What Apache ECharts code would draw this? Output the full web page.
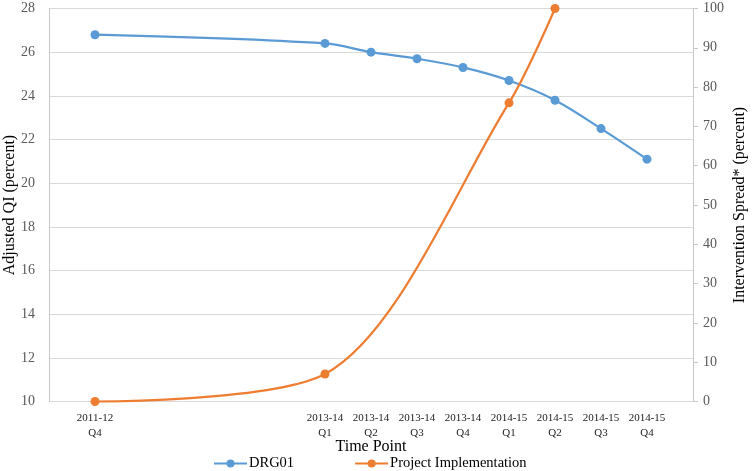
<!DOCTYPE html>
<html>
<head>
<meta charset="utf-8">
<script src="https://cdn.jsdelivr.net/npm/echarts@6/dist/echarts.min.js"></script>
<style>html,body{margin:0;padding:0;background:#fff}#c{width:755px;height:471px}</style>
</head>
<body>
<div id="c"></div>
<script>
// Quarter index positions (2011-12 Q4 = 0, one unit per quarter)
var quarterPos = [0, 5, 6, 7, 8, 9, 10, 11, 12];
var tickLabels = ['2011-12\nQ4', '2013-14\nQ1', '2013-14\nQ2', '2013-14\nQ3', '2013-14\nQ4', '2014-15\nQ1', '2014-15\nQ2', '2014-15\nQ3', '2014-15\nQ4'];
var drg01 = [26.8, 26.4, 26.0, 25.7, 25.3, 24.7, 23.8, 22.5, 21.1];
var implPos = [0, 5, 9, 10];
var implementation = [0, 7, 76, 100];

var FONT = '"Liberation Serif", "Times New Roman", serif';
var chart = echarts.init(document.getElementById('c'));
chart.setOption({
  animation: false,
  grid: {left: 49, right: 62, top: 8.5, bottom: 69.5, containLabel: false, outerBoundsMode: 'none'},
  xAxis: {
    type: 'value', min: -1, max: 13,
    name: 'Time Point', nameLocation: 'middle', nameGap: 37, nameMoveOverlap: false,
    nameTextStyle: {fontFamily: FONT, fontSize: 16, color: '#000'},
    axisLine: {show: false}, axisTick: {show: false}, splitLine: {show: false},
    axisLabel: {
      customValues: quarterPos,
      fontFamily: FONT, fontSize: 11, color: '#222', lineHeight: 15, margin: 9,
      formatter: function (v) { var i = quarterPos.indexOf(v); return i >= 0 ? tickLabels[i] : ''; }
    }
  },
  yAxis: [{
    type: 'value', min: 10, max: 28, interval: 2,
    name: 'Adjusted QI (percent)', nameLocation: 'middle', nameGap: 31, nameMoveOverlap: false,
    nameTextStyle: {fontFamily: FONT, fontSize: 16, color: '#000'},
    axisLine: {show: true, onZero: false, lineStyle: {color: '#c8c8c8', width: 1}},
    axisTick: {show: false},
    splitLine: {lineStyle: {color: '#d9d9d9', width: 1}},
    axisLabel: {fontFamily: FONT, fontSize: 14, color: '#595959', margin: 14}
  }, {
    type: 'value', min: 0, max: 100, interval: 10, position: 'right',
    name: 'Intervention Spread* (percent)', nameLocation: 'middle', nameGap: 39, nameMoveOverlap: false,
    nameTextStyle: {fontFamily: FONT, fontSize: 16, color: '#000'},
    axisLine: {show: true, onZero: false, lineStyle: {color: '#c8c8c8', width: 1}},
    axisTick: {show: true, length: 5, inside: false, lineStyle: {color: '#c8c8c8'}},
    splitLine: {show: false},
    axisLabel: {fontFamily: FONT, fontSize: 14, color: '#595959', margin: 10}
  }],
  legend: {
    top: 456, left: 213, padding: 0, itemGap: 60, itemWidth: 33, itemHeight: 10,
    textStyle: {fontFamily: FONT, fontSize: 14.5, color: '#000', padding: [0, 0, 0, -3]},
    data: ['DRG01', 'Project Implementation']
  },
  series: [{
    name: 'DRG01', type: 'line', yAxisIndex: 0, smooth: 0.35,
    data: quarterPos.map(function (x, i) { return [x, drg01[i]]; }),
    symbol: 'circle', symbolSize: 9,
    lineStyle: {color: '#5b9bd5', width: 2.25}, itemStyle: {color: '#5b9bd5'}
  }, {
    name: 'Project Implementation', type: 'line', yAxisIndex: 1, smooth: 0.3,
    data: implPos.map(function (x, i) { return [x, implementation[i]]; }),
    symbol: 'circle', symbolSize: 9,
    lineStyle: {color: '#ed7d31', width: 2.25}, itemStyle: {color: '#ed7d31'}
  }]
});
</script>
</body>
</html>
